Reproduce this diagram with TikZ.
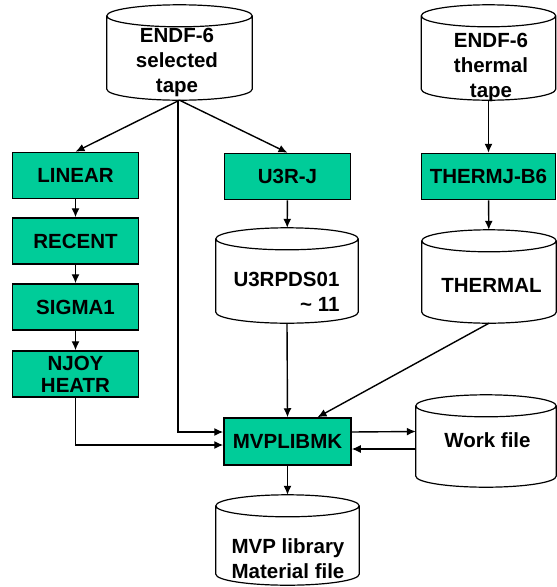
\documentclass[tikz,border=0pt]{standalone}
\usepackage{fontspec}
\setmainfont{Liberation Sans}
\usetikzlibrary{shapes.geometric, arrows.meta, positioning, calc}
\definecolor{cProgFill}{RGB}{0, 204, 153}
\definecolor{lineColor}{RGB}{0, 0, 0}
\def\tapeRy{11}
\tikzset{
    font=\fontsize{20.5}{25}\selectfont\bfseries,
    % --- program boxes ---
    progBox/.style={
        rectangle, draw=lineColor, line width=1.5pt, fill=cProgFill,
        minimum width=126pt, minimum height=46pt, inner sep=0pt, align=center
    },
    % --- data files (outline drawn by \drawTape) ---
    tapeFile/.style={rectangle, inner sep=0pt},
    tapeLine/.style={draw=lineColor, line width=1.2pt},
    tapeText/.style={inner sep=0pt, align=center},
    % --- connectors ---
    conn/.style={
        draw=lineColor, line width=1.4pt,
        -{Latex[length=9pt, width=8pt]}
    }
}
% cylinder outline around a tapeFile node
\newcommand{\drawTape}[1]{%
  \draw[tapeLine] let \p1=($(#1.east)-(#1.west)$) in
    ($(#1.north)+(0,\tapeRy)$) ellipse [x radius=0.5*\x1, y radius=\tapeRy pt]
    ($(#1.north west)+(0,\tapeRy)$) -- ($(#1.south west)+(0,-\tapeRy)$)
    arc [start angle=180, end angle=360, x radius=0.5*\x1, y radius=\tapeRy pt]
    -- ($(#1.north east)+(0,\tapeRy)$);
}

\begin{document}
\begin{tikzpicture}[x=1pt, y=-1pt]
	\useasboundingbox (0,0) rectangle (557,587);

	% --- input tapes ---
	\node[tapeFile, minimum width=145pt, minimum height=95pt] (sel) at (179.5, 52.5) {};
	\node[tapeText] (selT) at (177, 62.6) {ENDF-6\\selected\\tape};
	\node[tapeFile, minimum width=134pt, minimum height=95pt] (thTape) at (488.5, 52.5) {};
	\node[tapeText] (thTapeT) at (491, 67.6) {ENDF-6\\thermal\\tape};

	% --- processing chain (left) ---
	\node[progBox] (linear) at (75.5, 175.5) {LINEAR};
	\node[progBox] (recent) at (75.5, 241) {RECENT};
	\node[progBox] (sigma) at (75.5, 307) {SIGMA1};
	\node[progBox] (njoy) at (75.5, 374) {NJOY\\[-3pt]HEATR};

	% --- U3R-J / THERMJ-B6 ---
	\node[progBox] (u3rj) at (287.5, 176.5) {U3R-J};
	\node[progBox, minimum width=134pt] (thermj) at (488.5, 176.5) {THERMJ-B6};

	\node[tapeFile, minimum width=142pt, minimum height=95pt] (u3rpds) at (287, 275.5) {};
	\node[tapeText, align=right] (u3rpdsT) at (286.5, 292) {U3RPDS01\\\textasciitilde\ 11};
	\node[tapeFile, minimum width=134pt, minimum height=93pt] (thermal) at (489, 276.5) {};
	\node[tapeText] (thermalT) at (491.5, 285.5) {THERMAL};

	% --- MVPLIBMK and outputs ---
	\node[progBox, minimum width=127pt, minimum height=47pt] (mvp) at (287.5, 441.5) {MVPLIBMK};
	\node[tapeFile, minimum width=140pt, minimum height=92pt] (work) at (486, 441) {};
	\node[tapeText] (workT) at (487.5, 440.5) {Work file};
	\node[tapeFile, minimum width=143pt, minimum height=90pt] (lib) at (287.5, 540) {};
	\node[tapeText] (libT) at (288, 559) {MVP library\\Material file};

	\drawTape{sel}
	\drawTape{thTape}
	\drawTape{u3rpds}
	\drawTape{thermal}
	\drawTape{work}
	\drawTape{lib}

	% --- connectors ---
	\draw[conn] (sel.south) -- (linear.north);
	\draw[conn] (sel.south) -- (u3rj.north);
	\draw[conn] ([xshift=-1.5pt]sel.south) |- ([yshift=9.5pt]mvp.west);
	\draw[conn] (linear) -- (recent);
	\draw[conn] (recent) -- (sigma);
	\draw[conn] (sigma) -- (njoy);
	\draw[conn] (njoy.south) |- ([yshift=-3.5pt]mvp.west);
	\draw[conn] (u3rj) -- (u3rpds);
	\draw[conn] (u3rpds.south) -- (mvp.north);
	\draw[conn] (thTape.south) -- (thermj.north);
	\draw[conn] (thermj) -- (thermal);
	\draw[conn] (thermal.south) -- ([xshift=30pt]mvp.north);
	\draw[conn] ([yshift=9.5pt]mvp.east) -- ([yshift=9.5pt]work.west);
	\draw[conn] ([yshift=-8pt]work.west) -- ([yshift=-7.5pt]mvp.east);
	\draw[conn] (mvp) -- (lib);

\end{tikzpicture}
\end{document}
